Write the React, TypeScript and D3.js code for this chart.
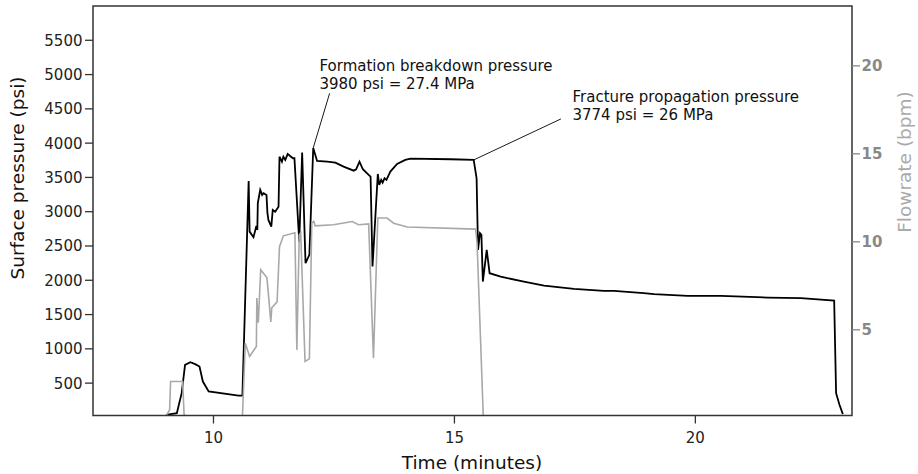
import React from "react";
import * as d3 from "d3";

// ---- data ----
const pressureTime = [
  9.02, 9.24, 9.34, 9.41, 9.52, 9.62, 9.71, 9.78, 9.9, 10.52, 10.6, 10.73, 10.75, 10.83, 10.89, 10.91,
  10.92, 10.97, 11.01, 11.04, 11.1, 11.12, 11.14, 11.2, 11.23, 11.28, 11.35, 11.37, 11.42, 11.45, 11.49,
  11.54, 11.59, 11.65, 11.68, 11.78, 11.84, 11.91, 11.99, 12.07, 12.15, 12.36, 12.53, 12.7, 12.91, 12.96,
  13.03, 13.1, 13.22, 13.26, 13.3, 13.41, 13.44, 13.48, 13.51, 13.55, 13.59, 13.67, 13.81, 13.98, 14.09,
  14.92, 15.4, 15.46, 15.49, 15.53, 15.56, 15.59, 15.67, 15.73, 15.96, 16.1, 16.44, 16.86, 17.48, 18.1,
  18.31, 18.93, 19.14, 19.84, 20.53, 21.5, 22.19, 22.88, 22.92, 22.99, 23.06,
];
const pressurePsi = [
  38, 63, 354, 767, 806, 777, 742, 523, 378, 319, 319, 3449, 2710, 2628, 2793, 2735,
  3124, 3318, 3245, 3270, 3245, 2978, 2880, 2783, 3026, 3001, 3074, 3803, 3730, 3803, 3755,
  3843, 3813, 3780, 3780, 2564, 3864, 2249, 2370, 3930, 3740, 3730, 3716, 3657, 3599, 3619,
  3730, 3619, 3536, 3512, 2200, 3551, 3391, 3464, 3424, 3488, 3464, 3585, 3697, 3755, 3774,
  3765, 3755, 3488, 2443, 2687, 2662, 1981, 2443, 2103, 2054, 2031, 1981, 1923, 1875, 1845,
  1845, 1812, 1797, 1773, 1773, 1748, 1739, 1704, 354, 184, 48,
];

const flowTime = [
  9.03, 9.09, 9.11, 9.36, 9.39, 9.43, 10.6, 10.66, 10.75, 10.89, 10.9, 10.93, 10.98, 11.11, 11.19,
  11.21, 11.32, 11.37, 11.45, 11.69, 11.73, 11.78, 11.81, 11.9, 11.99, 12.04, 12.08, 12.11, 12.49,
  12.88, 13.01, 13.22, 13.32, 13.41, 13.6, 13.74, 14.02, 15.44, 15.47, 15.6,
];
const flowBpm = [
  0.17, 0.45, 2.06, 2.06, 0.2, 0.0, 0.0, 4.24, 3.48, 4.05, 6.8, 5.4, 8.41, 7.95, 5.45,
  6.25, 6.59, 9.72, 10.34, 10.51, 3.86, 10.4, 10.51, 3.2, 3.35, 11.08, 11.16, 10.91, 10.97,
  11.15, 10.97, 11.02, 3.39, 11.35, 11.35, 11.06, 10.84, 10.72, 9.93, 0.0,
];

const xTicks = [10, 15, 20];
const leftTicks = [500, 1000, 1500, 2000, 2500, 3000, 3500, 4000, 4500, 5000, 5500];
const rightTicks = [5, 10, 15, 20];

const annotationLines = [
  ["Formation breakdown pressure", "3980 psi = 27.4 MPa"],
  ["Fracture propagation pressure", "3774 psi = 26 MPa"],
];
// arrow target (time, psi), arrow start (time, psi), text anchor (time, psi of first baseline)
const annotationTarget: [number, number][] = [[12.07, 3930], [15.4, 3755]];
const annotationStart: [number, number][] = [[12.41, 4727], [17.21, 4353]];
const annotationText: [number, number][] = [[12.2, 5045], [17.45, 4595]];

const W = 918;
const H = 474;
const L = 93, R = 852, T = 6, B = 415.5;
const FONT = "'DejaVu Sans', sans-serif";

export default function App() {
  const x = d3.scaleLinear().domain([7.5, 23.25]).range([L, R]);
  const yP = d3.scaleLinear().domain([28, 6000]).range([B, T]);
  const yF = d3.scaleLinear().domain([0.13, 23.4]).range([B, T]);

  const pData = pressureTime.map((t, i) => [t, pressurePsi[i]] as [number, number]);
  const fData = flowTime.map((t, i) => [t, flowBpm[i]] as [number, number]);

  const pLine = d3.line<[number, number]>().x((d) => x(d[0])).y((d) => yP(d[1]));
  const fLine = d3.line<[number, number]>().x((d) => x(d[0])).y((d) => yF(d[1]));

  return (
    <svg
      width={W}
      height={H}
      style={{ position: "absolute", left: 0, top: 0, display: "block", background: "#fff" }}
      fontFamily={FONT}
    >
      <defs>
        <clipPath id="plot">
          <rect x={L} y={T} width={R - L} height={B - T} />
        </clipPath>
      </defs>
      <g clipPath="url(#plot)">
        <path d={pLine(pData) || ""} fill="none" stroke="#000" strokeWidth={1.8} strokeLinejoin="miter" />
        <path d={fLine(fData) || ""} fill="none" stroke="#a8a8a8" strokeWidth={1.6} />
      </g>

      {/* annotations */}
      {annotationLines.map((lines, i) => (
        <g key={i}>
          <line
            x1={x(annotationStart[i][0])}
            y1={yP(annotationStart[i][1])}
            x2={x(annotationTarget[i][0])}
            y2={yP(annotationTarget[i][1])}
            stroke="#000"
            strokeWidth={0.9}
          />
          {lines.map((s, j) => (
            <text
              key={j}
              x={x(annotationText[i][0])}
              y={yP(annotationText[i][1]) + j * 18}
              fontSize={15}
              fill="#111"
            >
              {s}
            </text>
          ))}
        </g>
      ))}

      {/* frame */}
      <rect x={L} y={T} width={R - L} height={B - T} fill="none" stroke="#333" strokeWidth={1.5} />

      {/* left axis */}
      {leftTicks.map((v) => (
        <g key={v}>
          <line x1={L - 8} x2={L} y1={yP(v)} y2={yP(v)} stroke="#333" strokeWidth={1.3} />
          <text x={L - 10.5} y={yP(v) + 5.5} textAnchor="end" fontSize={15} fill="#222">
            {v}
          </text>
        </g>
      ))}
      {/* bottom axis */}
      {xTicks.map((v) => (
        <g key={v}>
          <line x1={x(v)} x2={x(v)} y1={B} y2={B + 8} stroke="#333" strokeWidth={1.3} />
          <text x={x(v)} y={B + 27.5} textAnchor="middle" fontSize={15} fill="#222">
            {v}
          </text>
        </g>
      ))}
      {/* right axis */}
      {rightTicks.map((v) => (
        <g key={v}>
          <line x1={R} x2={R + 8} y1={yF(v)} y2={yF(v)} stroke="#888" strokeWidth={1.3} />
          <text x={R + 9.5} y={yF(v) + 5.5} textAnchor="start" fontSize={15} fontWeight="bold" fill="#888">
            {v}
          </text>
        </g>
      ))}

      {/* axis labels */}
      <text x={472} y={469} textAnchor="middle" fontSize={18.5} fill="#111">
        Time (minutes)
      </text>
      <text
        transform={`translate(${23.5},${178}) rotate(-90)`}
        textAnchor="middle"
        fontSize={18.5}
        fill="#111"
      >
        Surface pressure (psi)
      </text>
      <text
        transform={`translate(${910.5},${162}) rotate(-90)`}
        textAnchor="middle"
        fontSize={18.5}
        fill="#aaa"
      >
        Flowrate (bpm)
      </text>
    </svg>
  );
}
